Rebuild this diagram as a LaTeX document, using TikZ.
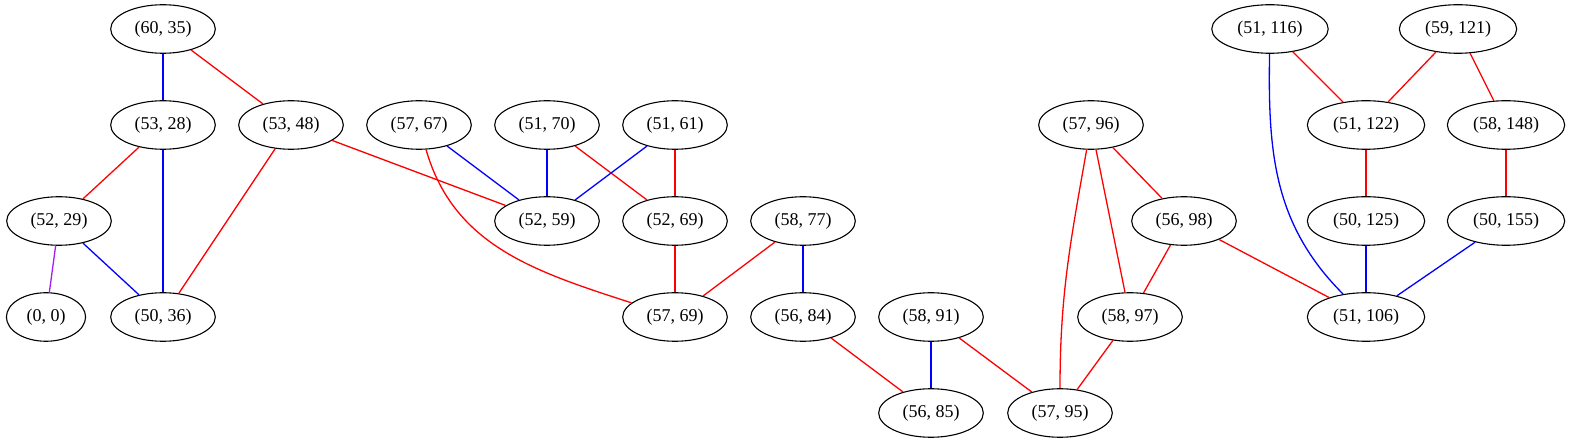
\documentclass[tikz,border=0pt]{standalone}
\usepackage{fontspec}
\setmainfont{Liberation Serif}
\usetikzlibrary{shapes.geometric}

\begin{document}
\begin{tikzpicture}[x=1pt,y=-1pt,
			pair node/.style={ellipse,draw,line width=1.1pt,inner xsep=8.5pt,inner ysep=9pt,font=\fontsize{18}{20}\selectfont},
			red edge/.style={red,line width=1.3pt},
			blue edge/.style={blue,line width=1.3pt},
			purple edge/.style={color={rgb,255:red,160;green,32;blue,240},line width=1.3pt}
			]
			
			\useasboundingbox (0,0) rectangle (1569,443);
			
			% rows at y = 29, 125, 221, 317, 413
			\foreach \x/\y/\a/\b in {163/29/60/35, 1270/29/51/116, 1458/29/59/121,
				163/125/53/28, 291/125/53/48, 419/125/57/67, 547/125/51/70, 675/125/51/61,
				1091/125/57/96, 1366/125/51/122, 1506/125/58/148,
				59/221/52/29, 547/221/52/59, 675/221/52/69, 803/221/58/77,
				1184/221/56/98, 1366/221/50/125, 1506/221/50/155,
				46/317/0/0, 163/317/50/36, 675/317/57/69, 803/317/56/84, 931/317/58/91,
				1130/317/58/97, 1366/317/51/106,
				931/413/56/85, 1060/413/57/95} {
				\node[pair node] at (\x,\y) (v\a-\b) {(\a, \b)};
			}
			
			\draw[blue edge] (v60-35) -- (v53-28);
			\draw[red edge] (v60-35) -- (v53-48);
			\draw[red edge] (v53-28) -- (v52-29);
			\draw[blue edge] (v53-28) -- (v50-36);
			\draw[purple edge] (v52-29) -- (v0-0);
			\draw[blue edge] (v52-29) -- (v50-36);
			\draw[red edge] (v53-48) -- (v50-36);
			\draw[red edge] (v53-48) -- (v52-59);
			\draw[blue edge] (v57-67) -- (v52-59);
			\draw[red edge] (v57-67) to[out=-74,in=162] (v57-69);
			\draw[blue edge] (v51-70) -- (v52-59);
			\draw[red edge] (v51-70) -- (v52-69);
			\draw[blue edge] (v51-61) -- (v52-59);
			\draw[red edge] (v51-61) -- (v52-69);
			\draw[red edge] (v52-69) -- (v57-69);
			\draw[red edge] (v58-77) -- (v57-69);
			\draw[blue edge] (v58-77) -- (v56-84);
			\draw[red edge] (v56-84) -- (v56-85);
			\draw[blue edge] (v58-91) -- (v56-85);
			\draw[red edge] (v58-91) -- (v57-95);
			\draw[red edge] (v57-96) to[out=-100,in=90] (v57-95);
			\draw[red edge] (v57-96) -- (v58-97);
			\draw[red edge] (v57-96) -- (v56-98);
			\draw[red edge] (v56-98) -- (v58-97);
			\draw[red edge] (v56-98) -- (v51-106);
			\draw[red edge] (v58-97) -- (v57-95);
			\draw[blue edge] (v51-116) to[out=-91,in=135] (v51-106);
			\draw[red edge] (v51-116) -- (v51-122);
			\draw[red edge] (v59-121) -- (v51-122);
			\draw[red edge] (v59-121) -- (v58-148);
			\draw[red edge] (v51-122) -- (v50-125);
			\draw[red edge] (v58-148) -- (v50-155);
			\draw[blue edge] (v50-125) -- (v51-106);
			\draw[blue edge] (v50-155) -- (v51-106);
			\end{tikzpicture}
\end{document}
